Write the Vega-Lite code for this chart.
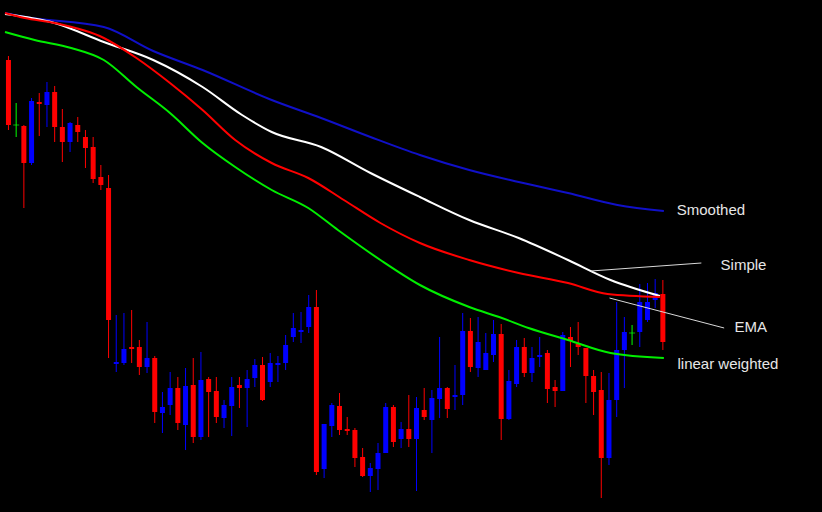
{
  "$schema": "https://vega.github.io/schema/vega-lite/v6.json",
  "width": 822,
  "height": 512,
  "autosize": {"type": "fit", "contains": "padding"},
  "padding": 0,
  "background": "#000000",
  "config": {"view": {"stroke": null}},
  "datasets": {
    "candles": [
      {"i":0,"open":452,"high":456,"low":382,"close":387},
      {"i":1,"open":387,"high":409,"low":375,"close":387},
      {"i":2,"open":386,"high":387,"low":304,"close":349},
      {"i":3,"open":349,"high":414,"low":347,"close":411},
      {"i":4,"open":410,"high":419,"low":376,"close":408},
      {"i":5,"open":407,"high":430,"low":385,"close":420},
      {"i":6,"open":420,"high":426,"low":370,"close":385},
      {"i":7,"open":385,"high":403,"low":350,"close":370},
      {"i":8,"open":370,"high":390,"low":360,"close":389},
      {"i":9,"open":387,"high":395,"low":370,"close":380},
      {"i":10,"open":375,"high":382,"low":344,"close":364},
      {"i":11,"open":365,"high":375,"low":329,"close":333},
      {"i":12,"open":335,"high":347,"low":322,"close":327},
      {"i":13,"open":324,"high":337,"low":154,"close":192},
      {"i":14,"open":148,"high":197,"low":140,"close":150},
      {"i":15,"open":149,"high":199,"low":147,"close":163},
      {"i":16,"open":165,"high":202,"low":149,"close":163},
      {"i":17,"open":165,"high":172,"low":137,"close":145},
      {"i":18,"open":145,"high":190,"low":139,"close":154},
      {"i":19,"open":154,"high":156,"low":89,"close":100},
      {"i":20,"open":99,"high":120,"low":79,"close":105},
      {"i":21,"open":107,"high":140,"low":97,"close":124},
      {"i":22,"open":124,"high":135,"low":82,"close":89},
      {"i":23,"open":87,"high":144,"low":62,"close":126},
      {"i":24,"open":127,"high":154,"low":69,"close":75},
      {"i":25,"open":75,"high":160,"low":72,"close":132},
      {"i":26,"open":133,"high":135,"low":75,"close":120},
      {"i":27,"open":121,"high":135,"low":89,"close":95},
      {"i":28,"open":94,"high":112,"low":84,"close":107},
      {"i":29,"open":106,"high":135,"low":76,"close":125},
      {"i":30,"open":127,"high":135,"low":104,"close":124},
      {"i":31,"open":124,"high":142,"low":85,"close":133},
      {"i":32,"open":134,"high":153,"low":125,"close":147},
      {"i":33,"open":147,"high":155,"low":111,"close":112},
      {"i":34,"open":130,"high":159,"low":125,"close":149},
      {"i":35,"open":147,"high":156,"low":130,"close":149},
      {"i":36,"open":149,"high":177,"low":142,"close":167},
      {"i":37,"open":175,"high":199,"low":170,"close":184},
      {"i":38,"open":180,"high":200,"low":169,"close":182},
      {"i":39,"open":185,"high":217,"low":179,"close":205},
      {"i":40,"open":205,"high":222,"low":37,"close":40},
      {"i":41,"open":43,"high":88,"low":34,"close":88},
      {"i":42,"open":86,"high":109,"low":75,"close":107},
      {"i":43,"open":106,"high":119,"low":77,"close":82},
      {"i":44,"open":83,"high":95,"low":77,"close":81},
      {"i":45,"open":82,"high":84,"low":45,"close":54},
      {"i":46,"open":55,"high":64,"low":35,"close":36},
      {"i":47,"open":36,"high":49,"low":20,"close":44},
      {"i":48,"open":43,"high":69,"low":22,"close":59},
      {"i":49,"open":59,"high":109,"low":59,"close":105},
      {"i":50,"open":105,"high":107,"low":65,"close":70},
      {"i":51,"open":73,"high":90,"low":64,"close":83},
      {"i":52,"open":83,"high":117,"low":65,"close":73},
      {"i":53,"open":73,"high":115,"low":21,"close":104},
      {"i":54,"open":102,"high":124,"low":92,"close":95},
      {"i":55,"open":92,"high":122,"low":59,"close":114},
      {"i":56,"open":113,"high":175,"low":94,"close":124},
      {"i":57,"open":124,"high":125,"low":94,"close":103},
      {"i":58,"open":115,"high":147,"low":102,"close":117},
      {"i":59,"open":117,"high":199,"low":107,"close":181},
      {"i":60,"open":181,"high":194,"low":140,"close":145},
      {"i":61,"open":144,"high":195,"low":135,"close":170},
      {"i":62,"open":142,"high":179,"low":142,"close":159},
      {"i":63,"open":157,"high":192,"low":150,"close":178},
      {"i":64,"open":178,"high":188,"low":72,"close":93},
      {"i":65,"open":93,"high":142,"low":92,"close":131},
      {"i":66,"open":128,"high":172,"low":125,"close":165},
      {"i":67,"open":165,"high":174,"low":135,"close":139},
      {"i":68,"open":139,"high":165,"low":130,"close":154},
      {"i":69,"open":155,"high":175,"low":145,"close":157},
      {"i":70,"open":159,"high":162,"low":109,"close":123},
      {"i":71,"open":125,"high":132,"low":105,"close":121},
      {"i":72,"open":121,"high":180,"low":121,"close":177},
      {"i":73,"open":175,"high":185,"low":145,"close":171},
      {"i":74,"open":168,"high":190,"low":157,"close":165},
      {"i":75,"open":164,"high":164,"low":109,"close":136},
      {"i":76,"open":136,"high":142,"low":97,"close":120},
      {"i":77,"open":122,"high":140,"low":14,"close":54},
      {"i":78,"open":54,"high":139,"low":47,"close":112},
      {"i":79,"open":112,"high":210,"low":95,"close":162},
      {"i":80,"open":162,"high":195,"low":124,"close":180},
      {"i":81,"open":179,"high":187,"low":167,"close":179},
      {"i":82,"open":180,"high":228,"low":165,"close":210},
      {"i":83,"open":192,"high":229,"low":190,"close":210},
      {"i":84,"open":212,"high":233,"low":204,"close":219},
      {"i":85,"open":218,"high":232,"low":162,"close":170}
    ],
    "ma": [
      {"i":-0.45,"ma":"Smoothed","v":499},{"i":2.12,"ma":"Smoothed","v":495},{"i":12.38,"ma":"Smoothed","v":485},{"i":18.8,"ma":"Smoothed","v":461},{"i":25.21,"ma":"Smoothed","v":442},{"i":34.19,"ma":"Smoothed","v":412},{"i":40.61,"ma":"Smoothed","v":394},{"i":47.02,"ma":"Smoothed","v":375},{"i":53.44,"ma":"Smoothed","v":357},{"i":59.85,"ma":"Smoothed","v":342},{"i":66.27,"ma":"Smoothed","v":330},{"i":72.68,"ma":"Smoothed","v":319},{"i":79.1,"ma":"Smoothed","v":307},{"i":85.13,"ma":"Smoothed","v":301},
      {"i":-0.45,"ma":"Simple","v":498},{"i":5.97,"ma":"Simple","v":489},{"i":12.38,"ma":"Simple","v":470},{"i":18.8,"ma":"Simple","v":452},{"i":25.21,"ma":"Simple","v":425},{"i":30.34,"ma":"Simple","v":397},{"i":34.19,"ma":"Simple","v":380},{"i":40.61,"ma":"Simple","v":365},{"i":47.02,"ma":"Simple","v":339},{"i":53.44,"ma":"Simple","v":315},{"i":59.85,"ma":"Simple","v":292},{"i":66.27,"ma":"Simple","v":274},{"i":72.68,"ma":"Simple","v":252},{"i":78.2,"ma":"Simple","v":232},{"i":84.62,"ma":"Simple","v":216},
      {"i":-0.45,"ma":"EMA","v":499},{"i":2.12,"ma":"EMA","v":494},{"i":5.97,"ma":"EMA","v":489},{"i":12.38,"ma":"EMA","v":474},{"i":16.62,"ma":"EMA","v":454},{"i":20.98,"ma":"EMA","v":429},{"i":25.21,"ma":"EMA","v":402},{"i":29.45,"ma":"EMA","v":372},{"i":34.19,"ma":"EMA","v":349},{"i":38.94,"ma":"EMA","v":334},{"i":43.56,"ma":"EMA","v":312},{"i":48.31,"ma":"EMA","v":289},{"i":53.44,"ma":"EMA","v":269},{"i":59.85,"ma":"EMA","v":252},{"i":66.27,"ma":"EMA","v":239},{"i":72.68,"ma":"EMA","v":229},{"i":77.82,"ma":"EMA","v":218},{"i":84.62,"ma":"EMA","v":215},
      {"i":-0.45,"ma":"linear weighted","v":480},{"i":3.4,"ma":"linear weighted","v":472},{"i":8.15,"ma":"linear weighted","v":464},{"i":12.38,"ma":"linear weighted","v":452},{"i":16.62,"ma":"linear weighted","v":425},{"i":20.98,"ma":"linear weighted","v":399},{"i":25.21,"ma":"linear weighted","v":369},{"i":29.45,"ma":"linear weighted","v":345},{"i":34.19,"ma":"linear weighted","v":322},{"i":38.94,"ma":"linear weighted","v":304},{"i":42.79,"ma":"linear weighted","v":282},{"i":48.31,"ma":"linear weighted","v":252},{"i":53.44,"ma":"linear weighted","v":227},{"i":59.85,"ma":"linear weighted","v":205},{"i":64.09,"ma":"linear weighted","v":194},{"i":67.55,"ma":"linear weighted","v":184},{"i":72.68,"ma":"linear weighted","v":172},{"i":78.2,"ma":"linear weighted","v":159},{"i":85.13,"ma":"linear weighted","v":154}
    ],
    "leaders": [
      {"i":75.64,"v":241,"lbl":"Simple"},{"i":90.0,"v":249,"lbl":"Simple"},
      {"i":78.07,"v":214,"lbl":"EMA"},{"i":92.96,"v":184,"lbl":"EMA"}
    ],
    "labels": [
      {"i":86.8,"v":302,"text":"Smoothed"},
      {"i":92.5,"v":247,"text":"Simple"},
      {"i":94.3,"v":185,"text":"EMA"},
      {"i":86.9,"v":148,"text":"linear weighted"}
    ]
  },
  "layer": [
    {
      "data": {"name": "candles"},
      "mark": {"type": "rule", "strokeWidth": 1},
      "encoding": {
        "x": {"field": "i", "type": "quantitative", "scale": {"domain": [-0.45, 105.02], "nice": false, "zero": false}, "axis": null},
        "y": {"field": "low", "type": "quantitative", "scale": {"domain": [0, 512], "nice": false, "zero": false}, "axis": null},
        "y2": {"field": "high"},
        "color": {
          "condition": [
            {"test": "datum.close > datum.open", "value": "#0000ff"},
            {"test": "datum.close == datum.open", "value": "#00ff00"}
          ],
          "value": "#ff0000"
        }
      }
    },
    {
      "data": {"name": "candles"},
      "mark": {"type": "bar", "size": 5},
      "encoding": {
        "x": {"field": "i", "type": "quantitative"},
        "y": {"field": "open", "type": "quantitative"},
        "y2": {"field": "close"},
        "color": {
          "condition": [
            {"test": "datum.close > datum.open", "value": "#0000ff"},
            {"test": "datum.close == datum.open", "value": "#00ff00"}
          ],
          "value": "#ff0000"
        }
      }
    },
    {
      "data": {"name": "candles"},
      "transform": [{"filter": "datum.close == datum.open"}],
      "mark": {"type": "tick", "orient": "horizontal", "thickness": 1, "size": 6, "color": "#00ff00"},
      "encoding": {
        "x": {"field": "i", "type": "quantitative"},
        "y": {"field": "open", "type": "quantitative"}
      }
    },
    {
      "data": {"name": "ma"},
      "mark": {"type": "line", "strokeWidth": 2, "interpolate": "monotone"},
      "encoding": {
        "x": {"field": "i", "type": "quantitative"},
        "y": {"field": "v", "type": "quantitative"},
        "color": {
          "field": "ma", "type": "nominal",
          "scale": {"domain": ["Smoothed", "Simple", "EMA", "linear weighted"], "range": ["#1010c8", "#ffffff", "#ff0000", "#00ee00"]},
          "legend": null
        },
        "detail": {"field": "ma"}
      }
    },
    {
      "data": {"name": "leaders"},
      "mark": {"type": "line", "strokeWidth": 1, "color": "#d8d8d8"},
      "encoding": {
        "x": {"field": "i", "type": "quantitative"},
        "y": {"field": "v", "type": "quantitative"},
        "detail": {"field": "lbl"}
      }
    },
    {
      "data": {"name": "labels"},
      "mark": {"type": "text", "align": "left", "baseline": "middle", "font": "Liberation Sans", "fontSize": 15, "color": "#e6e6e6"},
      "encoding": {
        "x": {"field": "i", "type": "quantitative"},
        "y": {"field": "v", "type": "quantitative"},
        "text": {"field": "text"}
      }
    }
  ]
}
